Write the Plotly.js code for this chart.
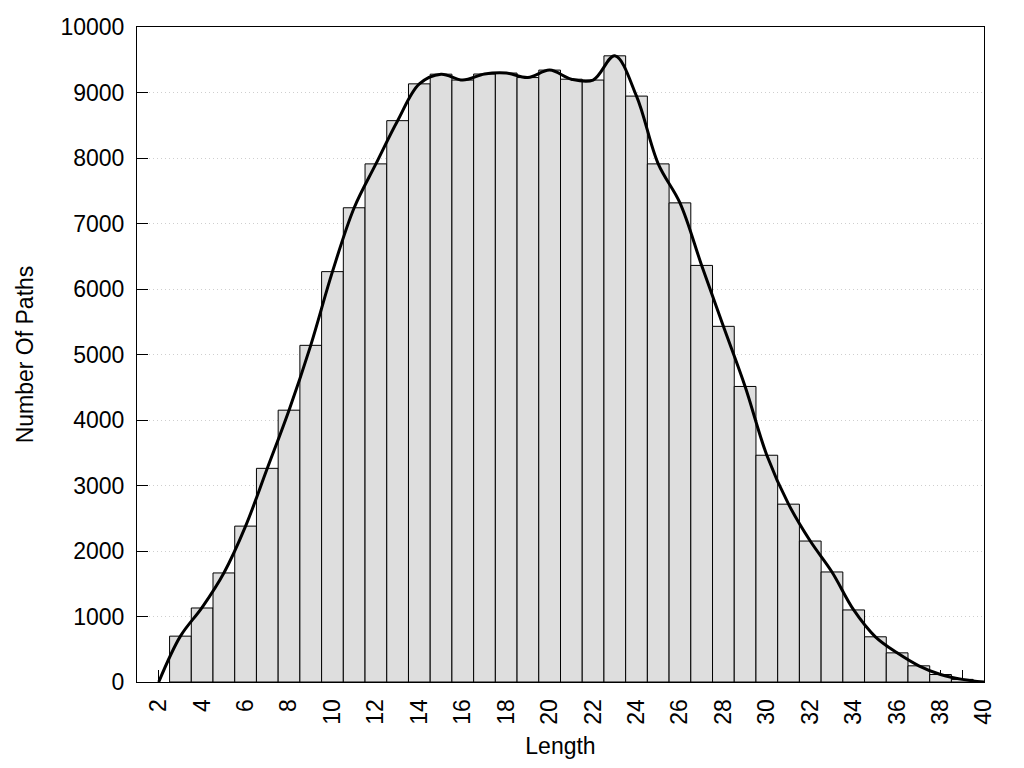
<!DOCTYPE html>
<html>
<head>
<meta charset="utf-8">
<script src="https://cdn.plot.ly/plotly-3.0.1.min.js"></script>
<style>html,body{margin:0;padding:0;background:#fff;}#chart{width:1024px;height:768px;}</style>
</head>
<body>
<div id="chart"></div>
<script>
// Histogram bins (path length) and counts
const lengths = [3,4,5,6,7,8,9,10,11,12,13,14,15,16,17,18,19,20,21,22,23,24,25,26,27,28,29,30,31,32,33,34,35,36,37,38,39];
const counts  = [700,1130,1665,2380,3262,4150,5140,6265,7240,7910,8570,9132,9280,9190,9282,9297,9228,9342,9203,9190,9560,8945,7910,7315,6360,5430,4512,3462,2715,2152,1680,1100,690,445,247,114,40];

// Smoothed trend curve points
const curveX = [2,3,4,5,6,7,8,9,10,11,12,13,14,15,16,17,18,19,20,21,22,23,24,25,26,27,28,29,30,31,32,33,34,35,36,37,38,39,40];
const curveY = [0,700,1140,1665,2380,3262,4150,5140,6265,7240,7910,8570,9132,9280,9190,9282,9297,9228,9342,9203,9190,9560,8945,7910,7315,6360,5430,4512,3462,2715,2152,1680,1100,690,445,247,114,40,0];

const xTickVals = [2,4,6,8,10,12,14,16,18,20,22,24,26,28,30,32,34,36,38,40];
const yTickVals = [0,1000,2000,3000,4000,5000,6000,7000,8000,9000,10000];

const font = {family: '"Liberation Sans", Arial, sans-serif', size: 23, color: '#000'};

const traces = [
  {
    type: 'bar', x: lengths, y: counts, width: 1,
    marker: {color: '#dedede', line: {color: '#000', width: 1}},
    hoverinfo: 'x+y', showlegend: false
  },
  {
    type: 'scatter', mode: 'lines', x: curveX, y: curveY,
    line: {color: '#000', width: 3, shape: 'spline', smoothing: 1},
    hoverinfo: 'skip', showlegend: false
  }
];

const layout = {
  width: 1024, height: 768,
  margin: {l: 137, r: 40, t: 27, b: 86},
  paper_bgcolor: '#fff', plot_bgcolor: '#fff',
  font: font,
  bargap: 0,
  showlegend: false,
  xaxis: {
    range: [1, 40],
    tickmode: 'array', tickvals: xTickVals, ticktext: xTickVals.map(String),
    tickangle: -90,
    ticks: 'inside', ticklen: 12, tickcolor: '#000', tickwidth: 1,
    ticklabelstandoff: 7,
    minor: {dtick: 1, tick0: 1, ticks: 'inside', ticklen: 12, tickcolor: '#000', tickwidth: 1, showgrid: false},
    showgrid: false, zeroline: false,
    showline: true, linecolor: '#000', linewidth: 1, mirror: true,
    layer: 'below traces',
    tickfont: font,
    automargin: true,
    title: {text: 'Length', font: font, standoff: 14}
  },
  yaxis: {
    range: [0, 10000],
    tickmode: 'array', tickvals: yTickVals, ticktext: yTickVals.map(String),
    ticks: 'inside', ticklen: 11, tickcolor: '#000', tickwidth: 1,
    ticklabelstandoff: 7,
    showgrid: true, gridcolor: '#cfcfcf', gridwidth: 1, griddash: '1px,3px',
    zeroline: false,
    showline: true, linecolor: '#000', linewidth: 1, mirror: true,
    tickfont: font,
    automargin: true,
    title: {text: 'Number Of Paths', font: font, standoff: 20}
  }
};

Plotly.newPlot('chart', traces, layout, {staticPlot: true, displayModeBar: false});
</script>
</body>
</html>
